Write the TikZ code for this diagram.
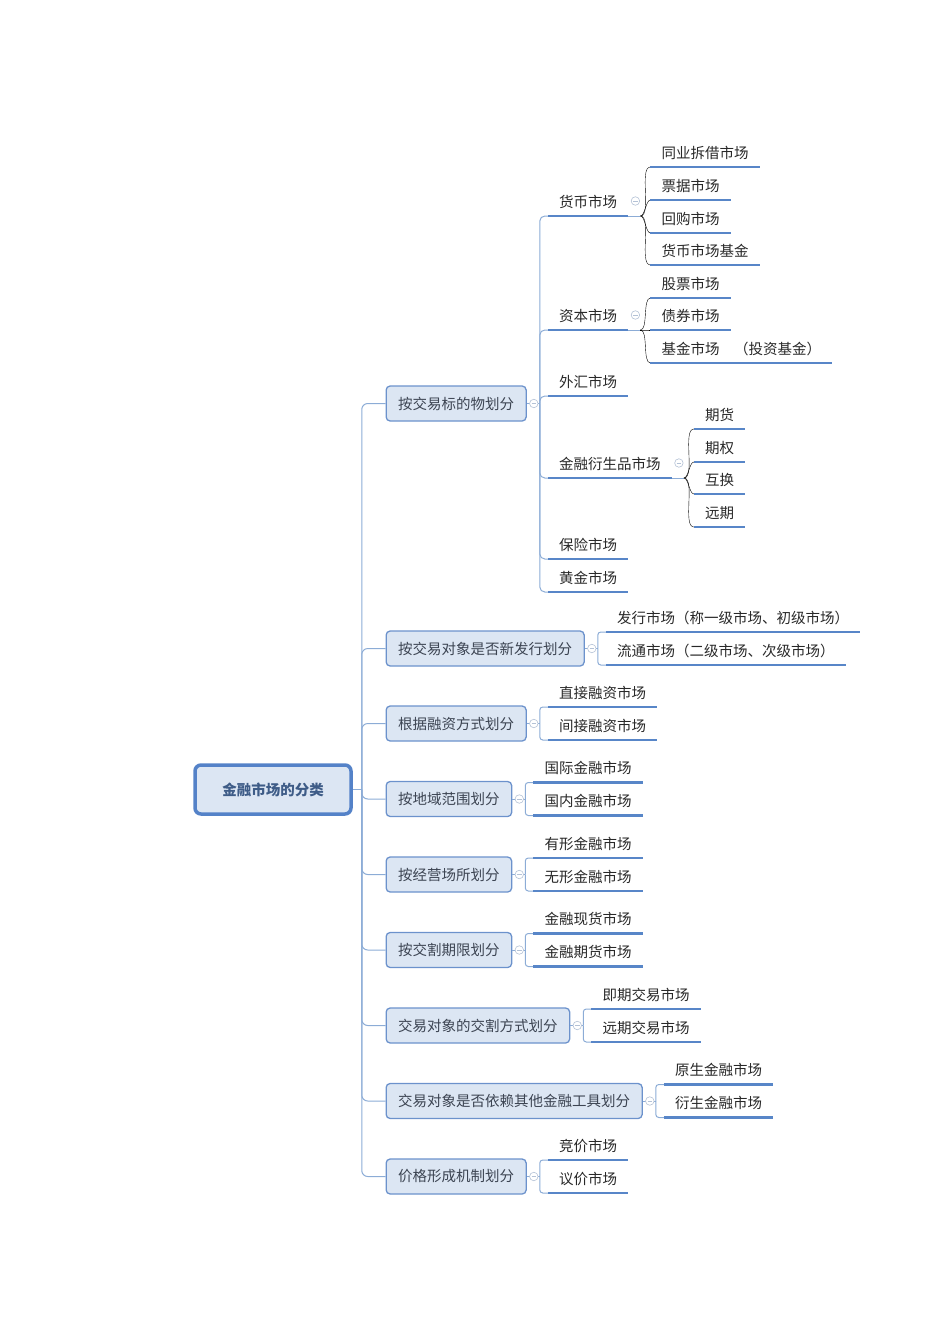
\documentclass[tikz,border=0pt]{standalone}
\usepackage{fontspec}
\setmainfont{Noto Sans CJK SC}
\usetikzlibrary{positioning}

\definecolor{linkblue}{RGB}{140,172,214}
\definecolor{lineblue}{RGB}{88,134,200}
\definecolor{boxfill}{RGB}{220,230,243}
\definecolor{boxline}{RGB}{108,146,204}
\definecolor{rootline}{RGB}{84,130,200}
\definecolor{roottext}{RGB}{62,92,135}
\definecolor{topictext}{RGB}{60,68,82}
\definecolor{leaftext}{RGB}{40,40,40}
\definecolor{foldgray}{RGB}{180,194,214}

\newcommand{\mapfont}{\fontsize{14.5pt}{17pt}\selectfont}

\tikzset{
  root/.style={draw=rootline, line width=3.5pt, fill=boxfill, rounded corners=6pt,
    minimum width=156pt, minimum height=49pt, font=\mapfont\bfseries, text=roottext},
  topic/.style={draw=boxline, line width=1.3pt, fill=boxfill, rounded corners=4pt,
    inner xsep=12pt, minimum height=35pt, anchor=west, font=\mapfont, text=topictext},
  leaf/.style={anchor=south west, inner xsep=11pt, inner ysep=4.8pt,
    text height=11pt, text depth=4pt, font=\mapfont, text=leaftext},
  link/.style={draw=linkblue, line width=1pt},
  curvy/.style={link, out=0, in=180, looseness=0.6},
  uline/.style={draw=lineblue, line width=2.6pt},
  fold/.style={circle, draw=foldgray, fill=white, line width=0.6pt, minimum size=8.5pt,
    inner sep=0pt, path picture={\draw[foldgray, line width=0.6pt]
      ([xshift=-2.2pt]path picture bounding box.center) --
      ([xshift=2.2pt]path picture bounding box.center);}},
}

\begin{document}
\begin{tikzpicture}[x=1pt,y=-1pt]
   \useasboundingbox (0,0) rectangle (950,1344);

   % root and first level
   \node[root] (root) at (273,789.5) {金融市场的分类};
   \node[topic] (t_1) at (385.5,403.5) {按交易标的物划分};
   \node[topic] (t_2) at (385.5,648.5) {按交易对象是否新发行划分};
   \node[topic] (t_3) at (385.5,723.5) {根据融资方式划分};
   \node[topic] (t_4) at (385.5,799) {按地域范围划分};
   \node[topic] (t_5) at (385.5,874.5) {按经营场所划分};
   \node[topic] (t_6) at (385.5,950) {按交割期限划分};
   \node[topic] (t_7) at (385.5,1025.5) {交易对象的交割方式划分};
   \node[topic] (t_8) at (385.5,1101) {交易对象是否依赖其他金融工具划分};
   \node[topic] (t_9) at (385.5,1176.5) {价格形成机制划分};

   \draw[link] (root.east) -- ++(9,0) coordinate (f_0);
   \foreach \t in {t_1,t_2,t_3,t_4,t_5,t_6,t_7,t_8,t_9}
      \draw[link, rounded corners=6pt] (f_0) |- (\t.west);
   \foreach \i in {1,...,9}
      \draw[link] (t_\i.east) -- ++(13,0) coordinate (f_\i);

   % by underlying
   \node[leaf] (s_1) at (548,216) {货币市场};
   \node[leaf] (s_2) at (548,330) {资本市场};
   \node[leaf] (s_3) at (548,396) {外汇市场};
   \node[leaf] (s_4) at (548,478) {金融衍生品市场};
   \node[leaf] (s_5) at (548,559) {保险市场};
   \node[leaf] (s_6) at (548,592) {黄金市场};
   \foreach \s in {s_1,s_2,s_3,s_4,s_5,s_6}
      \draw[link, rounded corners=5pt] (f_1) |- (\s.south west);

   \draw[link] (s_1.south east) -- ++(12,0) coordinate (g_1);
   \draw[link] (s_2.south east) -- ++(12,0) coordinate (g_2);
   \draw[link] (s_4.south east) -- ++(12,0) coordinate (g_4);

   \node[leaf] (l_11) at ([shift={(10,-49)}]g_1) {同业拆借市场};
   \node[leaf] (l_12) at ([shift={(10,-16)}]g_1) {票据市场};
   \node[leaf] (l_13) at ([shift={(10,17)}]g_1) {回购市场};
   \node[leaf] (l_14) at ([shift={(10,49)}]g_1) {货币市场基金};
   \node[leaf] (l_21) at ([shift={(10,-32)}]g_2) {股票市场};
   \node[leaf] (l_22) at ([shift={(10,0)}]g_2) {债券市场};
   \node[leaf] (l_23) at ([shift={(10,33)}]g_2) {基金市场　（投资基金）};
   \node[leaf] (l_41) at ([shift={(10,-49)}]g_4) {期货};
   \node[leaf] (l_42) at ([shift={(10,-16)}]g_4) {期权};
   \node[leaf] (l_43) at ([shift={(10,16)}]g_4) {互换};
   \node[leaf] (l_44) at ([shift={(10,49)}]g_4) {远期};

   \foreach \l in {l_11,l_12,l_13,l_14}
      \draw (g_1) to[curvy] (\l.south west);
   \foreach \l in {l_21,l_22,l_23}
      \draw (g_2) to[curvy] (\l.south west);
   \foreach \l in {l_41,l_42,l_43,l_44}
      \draw (g_4) to[curvy] (\l.south west);

   % the two-way splits
   \node[leaf] (a_1) at ([shift={(8,-16.5)}]f_2) {发行市场（称一级市场、初级市场）};
   \node[leaf] (a_2) at ([shift={(8,16.5)}]f_2) {流通市场（二级市场、次级市场）};
   \node[leaf] (b_1) at ([shift={(8,-16.5)}]f_3) {直接融资市场};
   \node[leaf] (b_2) at ([shift={(8,16.5)}]f_3) {间接融资市场};
   \node[leaf] (c_1) at ([shift={(8,-16.5)}]f_4) {国际金融市场};
   \node[leaf] (c_2) at ([shift={(8,16.5)}]f_4) {国内金融市场};
   \node[leaf] (d_1) at ([shift={(8,-16.5)}]f_5) {有形金融市场};
   \node[leaf] (d_2) at ([shift={(8,16.5)}]f_5) {无形金融市场};
   \node[leaf] (e_1) at ([shift={(8,-16.5)}]f_6) {金融现货市场};
   \node[leaf] (e_2) at ([shift={(8,16.5)}]f_6) {金融期货市场};
   \node[leaf] (h_1) at ([shift={(8,-16.5)}]f_7) {即期交易市场};
   \node[leaf] (h_2) at ([shift={(8,16.5)}]f_7) {远期交易市场};
   \node[leaf] (k_1) at ([shift={(8,-16.5)}]f_8) {原生金融市场};
   \node[leaf] (k_2) at ([shift={(8,16.5)}]f_8) {衍生金融市场};
   \node[leaf] (p_1) at ([shift={(8,-16.5)}]f_9) {竞价市场};
   \node[leaf] (p_2) at ([shift={(8,16.5)}]f_9) {议价市场};

   \foreach \x/\n in {a/2,b/3,c/4,d/5,e/6,h/7,k/8,p/9} {
      \draw[link, rounded corners=3pt] (f_\n) |- (\x_1.south west);
      \draw[link, rounded corners=3pt] (f_\n) |- (\x_2.south west);
   }

   % underlines
   \foreach \n in {s_1,s_2,s_3,s_4,s_5,s_6,l_11,l_12,l_13,l_14,l_21,l_22,l_23,
                   l_41,l_42,l_43,l_44,a_1,a_2,b_1,b_2,c_1,c_2,d_1,d_2,
                   e_1,e_2,h_1,h_2,k_1,k_2,p_1,p_2}
      \draw[uline] (\n.south west) -- (\n.south east);

   % collapse marks
   \foreach \i in {1,...,9}
      \node[fold] (o_\i) at ([xshift=7pt]t_\i.east) {};
   \node[fold] (o_s1) at ([shift={(7,-15)}]s_1.south east) {};
   \node[fold] (o_s2) at ([shift={(7,-15)}]s_2.south east) {};
   \node[fold] (o_s4) at ([shift={(7,-15)}]s_4.south east) {};
\end{tikzpicture}
\end{document}
